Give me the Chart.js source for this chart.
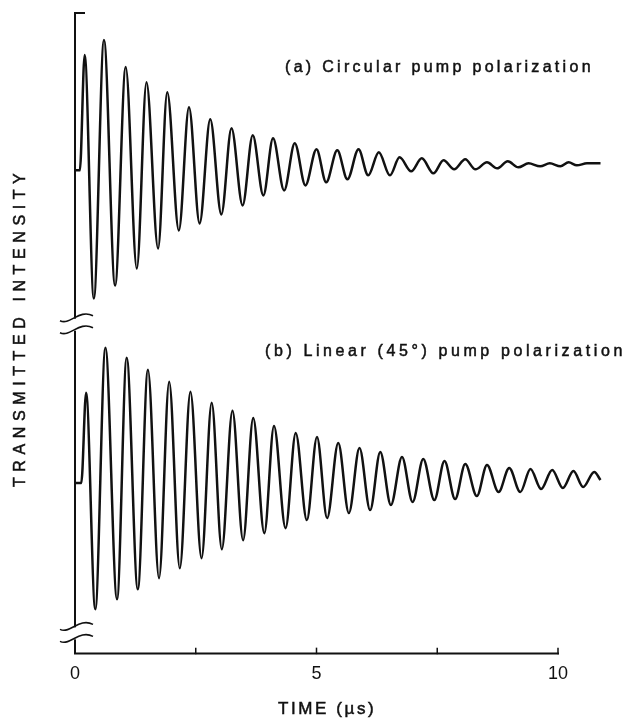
<!DOCTYPE html>
<html>
<head>
<meta charset="utf-8">
<script src="https://cdn.jsdelivr.net/npm/chart.js@4.4.1/dist/chart.umd.min.js"></script>
<style>
  html, body { margin: 0; padding: 0; background: #fff; }
  canvas { display: block; }
</style>
</head>
<body>
<canvas id="chart" width="629" height="723"></canvas>
<script>
(function () {
  "use strict";

  // time in microseconds, intensity in arbitrary units
  var circTime = [0, 0.10, 0.20, 0.39, 0.60, 0.83, 1.05, 1.28, 1.48, 1.72, 1.91, 2.15,
    2.36, 2.58, 2.80, 3.03, 3.24, 3.47, 3.68, 3.90, 4.10, 4.33, 4.55, 4.77, 5.00, 5.20,
    5.43, 5.64, 5.87, 6.07, 6.29, 6.52, 6.72, 6.96, 7.18, 7.42, 7.63, 7.85, 8.08, 8.29,
    8.53, 8.74, 8.96, 9.18, 9.39, 9.63, 9.83, 10.05, 10.22, 10.39, 10.60, 10.88];
  var circIntensity = [482, 482, 597, 354, 612, 367, 585, 384, 570, 404, 560, 422,
    545, 429, 533, 438, 524, 447, 517, 457, 514, 462, 509, 467, 503, 470,
    502, 473, 503, 477, 500, 477, 495, 481, 494, 479, 492, 483, 493, 483,
    490, 484, 491, 485, 489, 486, 489, 486, 490, 487, 489, 489];

  var linTime = [0, 0.13, 0.23, 0.42, 0.63, 0.87, 1.07, 1.30, 1.51, 1.74, 1.95, 2.17,
    2.39, 2.62, 2.83, 3.04, 3.26, 3.48, 3.69, 3.92, 4.12, 4.36, 4.57, 4.80, 5.01, 5.22,
    5.45, 5.67, 5.89, 6.11, 6.32, 6.54, 6.77, 6.99, 7.21, 7.44, 7.65, 7.87, 8.08, 8.32,
    8.53, 8.77, 8.99, 9.22, 9.43, 9.65, 9.88, 10.10, 10.32, 10.52, 10.75, 10.88];
  var linIntensity = [170, 170, 260, 44, 305, 54, 295, 64, 283, 75, 271, 85,
    261, 95, 250, 104, 242, 113, 235, 120, 227, 125, 220, 133, 216, 135,
    210, 140, 205, 143, 201, 148, 196, 151, 194, 153, 192, 154, 189, 157,
    188, 161, 185, 161, 184, 164, 183, 165, 182, 166, 181, 173];

  var xTicks = [0, 2.5, 5, 7.5, 10];
  var xTickLabels = { 0: "0", 5: "5", 10: "10" };
  var yBreaks = [328, 20];

  var panelLabels = ["(a) Circular pump polarization", "(b) Linear (45\u00b0) pump polarization"];
  var xTitle = "TIME (\u00b5s)";
  var yTitle = "TRANSMITTED INTENSITY";

  var FONT = "'Liberation Sans', Arial, Helvetica, sans-serif";
  var INK = "#111";

  function toPoints(xs, ys) {
    return xs.map(function (x, i) { return { x: x, y: ys[i] }; });
  }

  // draws text char by char so the wide letter spacing of the original survives;
  // a thin stroke gives the heavier print look
  function spacedText(ctx, text, x, y, size, spacing, angle) {
    ctx.save();
    ctx.translate(x, y);
    if (angle) ctx.rotate(angle);
    ctx.font = size + "px " + FONT;
    ctx.fillStyle = INK;
    ctx.strokeStyle = INK;
    ctx.lineWidth = 0.5;
    ctx.textAlign = "left";
    ctx.textBaseline = "alphabetic";
    var pos = 0;
    for (var i = 0; i < text.length; i++) {
      var ch = text[i];
      ctx.fillText(ch, pos, 0);
      ctx.strokeText(ch, pos, 0);
      pos += ctx.measureText(ch).width + spacing;
    }
    ctx.restore();
  }

  function axisBreak(ctx, x0, yc) {
    ctx.save();
    ctx.fillStyle = "#fff";
    ctx.fillRect(x0 - 3, yc - 6, 6, 12);
    ctx.strokeStyle = INK;
    ctx.lineWidth = 1.6;
    [-6, 6].forEach(function (d) {
      var y = yc + d;
      ctx.beginPath();
      ctx.moveTo(x0 - 15, y + 2);
      ctx.bezierCurveTo(x0 - 5, y + 7, x0 + 4, y - 10, x0 + 18, y - 3);
      ctx.stroke();
    });
    ctx.restore();
  }

  var decorPlugin = {
    id: "decor",
    afterDraw: function (chart) {
      var ctx = chart.ctx;
      var area = chart.chartArea;
      var xs = chart.scales.x;
      var ys = chart.scales.y;
      var x0 = xs.getPixelForValue(0);
      var xEnd = xs.getPixelForValue(10);
      var yBottom = ys.getPixelForValue(0);

      ctx.save();
      ctx.strokeStyle = INK;
      ctx.lineWidth = 2;
      ctx.lineCap = "square";

      // axes
      ctx.beginPath();
      ctx.moveTo(x0 + 9, area.top);
      ctx.lineTo(x0, area.top);
      ctx.lineTo(x0, yBottom);
      ctx.lineTo(xEnd, yBottom);
      ctx.stroke();

      // inward tick marks on the time axis
      ctx.lineWidth = 1.5;
      xTicks.slice(1).forEach(function (t) {
        var px = xs.getPixelForValue(t);
        ctx.beginPath();
        ctx.moveTo(px, yBottom);
        ctx.lineTo(px, yBottom - 5);
        ctx.stroke();
      });
      ctx.restore();

      yBreaks.forEach(function (v) {
        axisBreak(ctx, x0, ys.getPixelForValue(v));
      });

      spacedText(ctx, panelLabels[0], 285, 72, 16, 3.3);
      spacedText(ctx, panelLabels[1], 265, 356, 16, 3.6);
      spacedText(ctx, xTitle, 278, 714, 17, 2.6);
      spacedText(ctx, yTitle, 25, 487, 16, 5.6, -Math.PI / 2);
    }
  };

  function traceStyle(points) {
    return {
      data: points,
      borderColor: INK,
      borderWidth: 2.5,
      pointRadius: 0,
      fill: false,
      cubicInterpolationMode: "monotone",
      clip: false
    };
  }

  new Chart(document.getElementById("chart"), {
    type: "line",
    data: {
      datasets: [
        traceStyle(toPoints(circTime, circIntensity)),
        traceStyle(toPoints(linTime, linIntensity))
      ]
    },
    options: {
      responsive: false,
      animation: false,
      devicePixelRatio: 1,
      layout: { padding: { left: 75, right: 71, top: 13, bottom: 28 } },
      plugins: { legend: { display: false }, tooltip: { enabled: false } },
      scales: {
        x: {
          type: "linear",
          afterDataLimits: function (scale) {
            // traces run on past 10 us, the axis stops at 10
            scale.min = 0;
            scale.max = 10;
          },
          afterFit: function (scale) {
            scale.paddingLeft = 0;
            scale.paddingRight = 0;
          },
          grid: { display: false, drawTicks: false },
          border: { display: false },
          ticks: {
            stepSize: 2.5,
            maxRotation: 0,
            autoSkip: false,
            padding: 10,
            color: INK,
            font: { family: FONT, size: 18 },
            callback: function (value) {
              return xTickLabels[value] || "";
            }
          }
        },
        y: {
          display: false,
          min: 0,
          max: 639
        }
      }
    },
    plugins: [decorPlugin]
  });
})();
</script>
</body>
</html>
